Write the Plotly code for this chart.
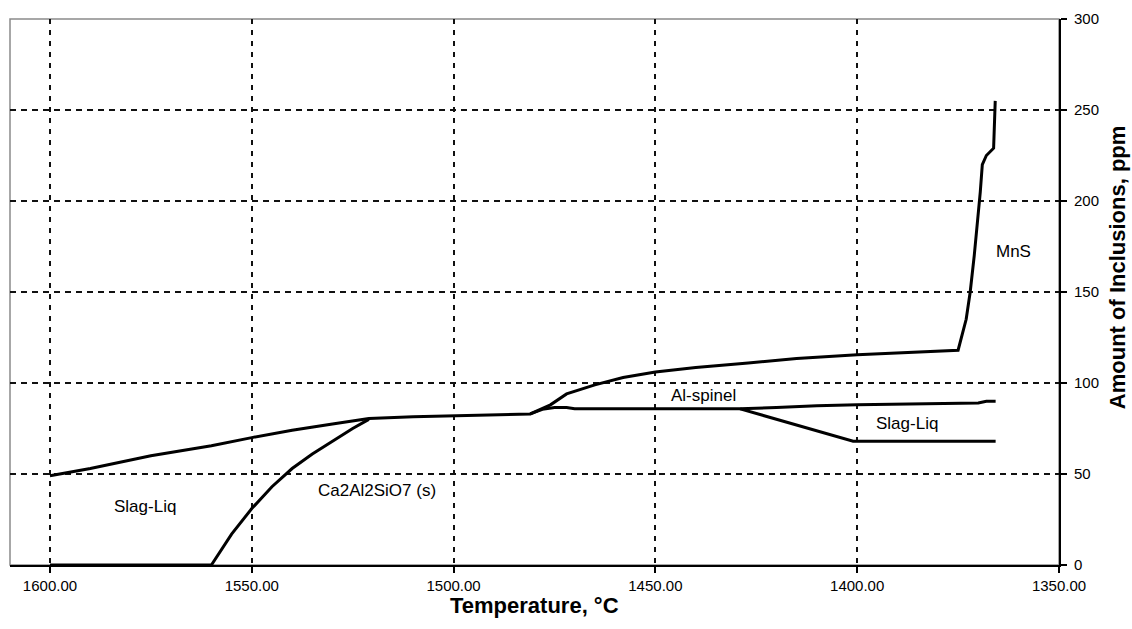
import plotly.graph_objects as go

# Upper envelope: Slag-Liq (high T), merged region, total, MnS rise
upper_T = [1600, 1590, 1575, 1560, 1550, 1540, 1530, 1521, 1510, 1500, 1490, 1481,
           1476, 1472, 1465, 1458, 1450, 1440, 1427, 1415, 1400, 1390, 1380, 1375,
           1373, 1372, 1371, 1370, 1369.5, 1369, 1368, 1366.2, 1366, 1365.8]
upper_v = [49, 53, 60, 65.5, 70, 74, 77.5, 80.5, 81.5, 82, 82.5, 83,
           88, 94, 99, 103, 106, 108.5, 111, 113.5, 115.5, 116.5, 117.5, 118,
           135, 150, 170, 192, 205, 220, 225, 229, 240, 255]

# Ca2Al2SiO7 (s)
ca_T = [1600, 1560, 1555, 1550, 1545, 1540, 1535, 1530, 1525, 1521]
ca_v = [0, 0, 17, 31, 43, 53, 61, 68, 75, 80]

# Al-spinel (lower branch)
sp_T = [1481, 1478, 1475, 1472, 1470, 1460, 1450, 1440, 1429, 1420, 1410, 1400,
        1390, 1380, 1370, 1368, 1365.7]
sp_v = [83, 85.5, 86.5, 86.5, 85.8, 85.8, 85.8, 85.8, 85.8, 86.5, 87.5, 88,
        88.3, 88.6, 89, 90, 90]

# Slag-Liq (low T)
sl_T = [1429, 1420, 1410, 1401, 1390, 1380, 1365.7]
sl_v = [85.8, 80, 73.6, 68, 68, 68, 68]

labels = ["Slag-Liq", "Ca2Al2SiO7 (s)", "Al-spinel", "Slag-Liq", "MnS"]
label_T = [1576.5, 1519, 1438, 1387.6, 1361.2]
label_v = [32, 41, 93, 77.6, 172.4]

x_ticks = [1600, 1550, 1500, 1450, 1400, 1350]
y_ticks = [0, 50, 100, 150, 200, 250, 300]

fig = go.Figure()
line = dict(color="black", width=3)
for T, v in [(upper_T, upper_v), (ca_T, ca_v), (sp_T, sp_v), (sl_T, sl_v)]:
    fig.add_trace(go.Scatter(x=T, y=v, mode="lines", line=line, showlegend=False,
                             hoverinfo="skip"))

for t, T, v in zip(labels, label_T, label_v):
    fig.add_annotation(x=T, y=v, text=t, showarrow=False,
                       font=dict(family="Arial", size=17, color="black"))

fig.add_annotation(xref="paper", yref="paper", x=0.5, y=-0.075, text="<b>Temperature, °C</b>",
                   showarrow=False, yanchor="middle",
                   font=dict(family="Arial", size=22, color="black"))
fig.add_annotation(xref="paper", yref="paper", x=1.056, y=0.545,
                   text="<b>Amount of Inclusions, ppm</b>", textangle=-90,
                   showarrow=False, xanchor="center", yanchor="middle",
                   font=dict(family="Arial", size=22, color="black"))

fig.add_shape(type="rect", xref="paper", yref="paper", x0=0, y0=0, x1=1, y1=1,
              line=dict(color="#8a8a8a", width=1.5), layer="below")

fig.update_layout(
    width=1132, height=629,
    margin=dict(l=10, r=73, t=17, b=64),
    paper_bgcolor="white", plot_bgcolor="white",
    font=dict(family="Arial", size=15, color="black"),
    xaxis=dict(range=[1609.9, 1350], tickvals=x_ticks, tickformat=".2f",
               showgrid=True, gridcolor="#111", gridwidth=2, griddash="5px,6px",
               showline=True, linecolor="black", linewidth=2,
               ticks="outside", ticklen=6, tickwidth=2, tickcolor="black",
               zeroline=False, tickfont=dict(size=15)),
    yaxis=dict(range=[0, 300], tickvals=y_ticks, side="right",
               showgrid=True, gridcolor="#111", gridwidth=2, griddash="6px,5px",
               showline=True, linecolor="black", linewidth=2,
               ticks="outside", ticklen=6, tickwidth=2, tickcolor="black",
               zeroline=False, tickfont=dict(size=15), ticklabelstandoff=4),
)

fig.write_html("out.html")
